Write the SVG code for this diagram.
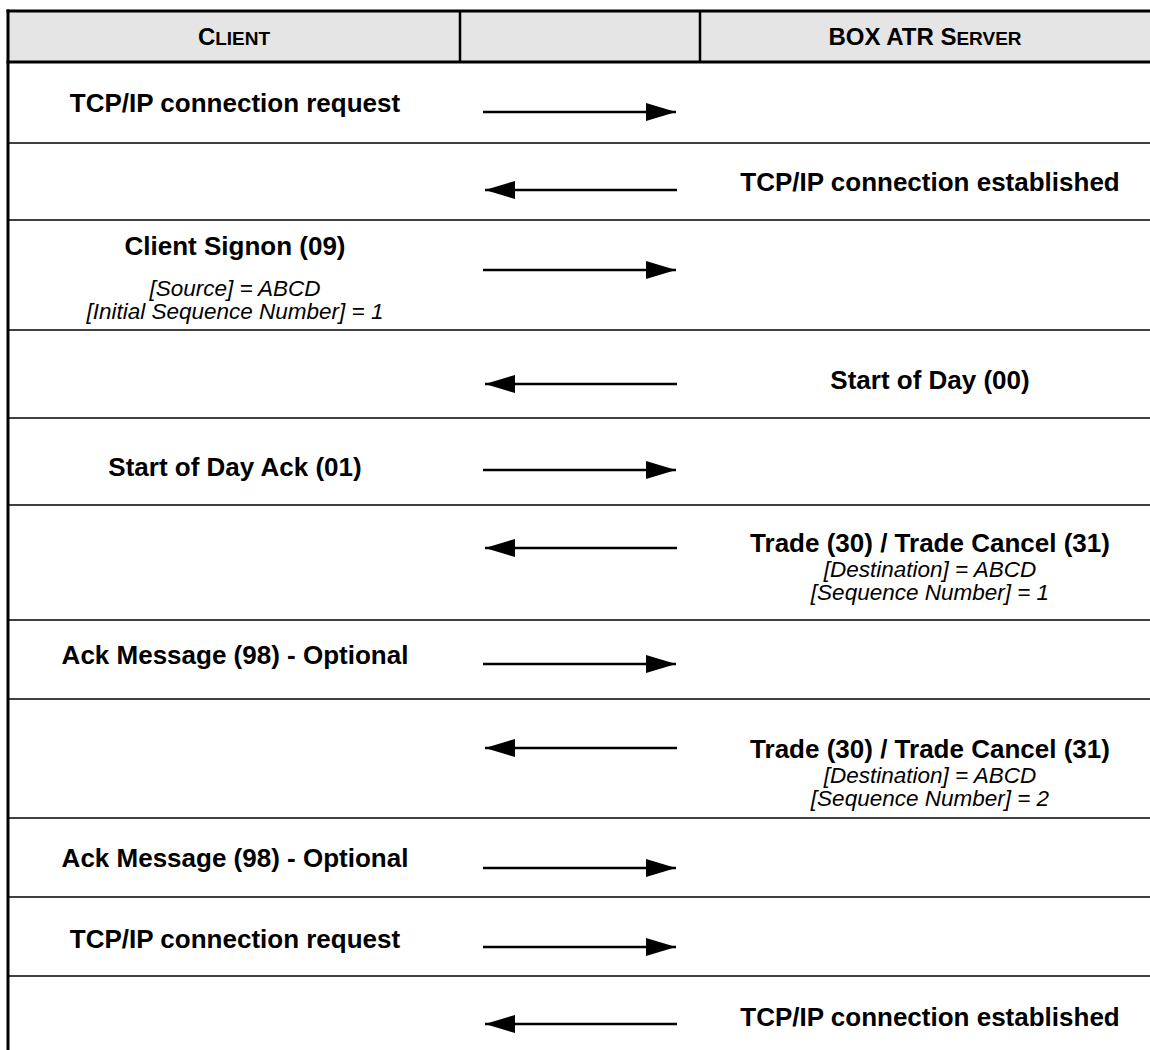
<svg xmlns="http://www.w3.org/2000/svg" width="1150" height="1050" viewBox="0 0 1150 1050">
<defs>
<style>
.b{font-family:"Liberation Sans",Arial,sans-serif;font-weight:bold;font-size:26px;fill:#000;text-anchor:middle}
.i{font-family:"Liberation Sans",Arial,sans-serif;font-style:italic;font-size:22.5px;fill:#000;text-anchor:middle}
.h{font-family:"Liberation Sans",Arial,sans-serif;font-weight:bold;font-size:24px;fill:#000;text-anchor:middle}
.sc{font-size:19px}
.sep{stroke:#000;stroke-width:1.6}
.ln{stroke:#000;stroke-width:2.5;fill:none}
</style>
<marker id="ahR" markerWidth="30" markerHeight="18" refX="30" refY="9" orient="auto" markerUnits="userSpaceOnUse">
<polygon points="0,0 30,9 0,18" fill="#000"/>
</marker>
<marker id="ahL" markerWidth="30" markerHeight="18" refX="30" refY="9" orient="auto" markerUnits="userSpaceOnUse">
<polygon points="0,0 30,9 0,18" fill="#000"/>
</marker>
</defs>
<rect width="1150" height="1050" fill="#fff"/>
<g id="table">
<rect x="8" y="11" width="1150" height="51" fill="#e5e5e5"/>
<line x1="6.5" y1="11" x2="1150" y2="11" stroke="#000" stroke-width="3"/>
<line x1="6.5" y1="62" x2="1150" y2="62" stroke="#000" stroke-width="3"/>
<line x1="8" y1="9.5" x2="8" y2="1050" stroke="#000" stroke-width="3"/>
<line x1="460" y1="11" x2="460" y2="62" stroke="#000" stroke-width="2.5"/>
<line x1="700" y1="11" x2="700" y2="62" stroke="#000" stroke-width="2.5"/>
<line class="sep" x1="8" y1="143" x2="1150" y2="143"/>
<line class="sep" x1="8" y1="220" x2="1150" y2="220"/>
<line class="sep" x1="8" y1="330" x2="1150" y2="330"/>
<line class="sep" x1="8" y1="418" x2="1150" y2="418"/>
<line class="sep" x1="8" y1="505" x2="1150" y2="505"/>
<line class="sep" x1="8" y1="620" x2="1150" y2="620"/>
<line class="sep" x1="8" y1="699" x2="1150" y2="699"/>
<line class="sep" x1="8" y1="818" x2="1150" y2="818"/>
<line class="sep" x1="8" y1="897" x2="1150" y2="897"/>
<line class="sep" x1="8" y1="976" x2="1150" y2="976"/>
</g>
<g id="header-client"><text class="h" x="234" y="45">C<tspan class="sc">LIENT</tspan></text></g>
<g id="header-server"><text class="h" x="925" y="45">BOX ATR S<tspan class="sc">ERVER</tspan></text></g>
<g id="msg1"><text class="b" x="235" y="112">TCP/IP connection request</text></g>
<g id="msg2"><text class="b" x="930" y="191">TCP/IP connection established</text></g>
<g id="msg3"><text class="b" x="235" y="255">Client Signon (09)</text>
<text class="i" x="235" y="296">[Source] = ABCD</text>
<text class="i" x="235" y="319">[Initial Sequence Number] = 1</text></g>
<g id="msg4"><text class="b" x="930" y="389">Start of Day (00)</text></g>
<g id="msg5"><text class="b" x="235" y="476">Start of Day Ack (01)</text></g>
<g id="msg6"><text class="b" x="930" y="552">Trade (30) / Trade Cancel (31)</text>
<text class="i" x="930" y="577">[Destination] = ABCD</text>
<text class="i" x="930" y="600">[Sequence Number] = 1</text></g>
<g id="msg7"><text class="b" x="235" y="664">Ack Message (98) - Optional</text></g>
<g id="msg8"><text class="b" x="930" y="758">Trade (30) / Trade Cancel (31)</text>
<text class="i" x="930" y="783">[Destination] = ABCD</text>
<text class="i" x="930" y="806">[Sequence Number] = 2</text></g>
<g id="msg9"><text class="b" x="235" y="867">Ack Message (98) - Optional</text></g>
<g id="msg10"><text class="b" x="235" y="948">TCP/IP connection request</text></g>
<g id="msg11"><text class="b" x="930" y="1026">TCP/IP connection established</text></g>
<g id="connectors">
<line class="ln" x1="483" y1="112" x2="676" y2="112" marker-end="url(#ahR)"/>
<line class="ln" x1="677" y1="190" x2="485" y2="190" marker-end="url(#ahL)"/>
<line class="ln" x1="483" y1="270" x2="676" y2="270" marker-end="url(#ahR)"/>
<line class="ln" x1="677" y1="384" x2="485" y2="384" marker-end="url(#ahL)"/>
<line class="ln" x1="483" y1="470" x2="676" y2="470" marker-end="url(#ahR)"/>
<line class="ln" x1="677" y1="548" x2="485" y2="548" marker-end="url(#ahL)"/>
<line class="ln" x1="483" y1="664" x2="676" y2="664" marker-end="url(#ahR)"/>
<line class="ln" x1="677" y1="748" x2="485" y2="748" marker-end="url(#ahL)"/>
<line class="ln" x1="483" y1="868" x2="676" y2="868" marker-end="url(#ahR)"/>
<line class="ln" x1="483" y1="947" x2="676" y2="947" marker-end="url(#ahR)"/>
<line class="ln" x1="677" y1="1024" x2="485" y2="1024" marker-end="url(#ahL)"/>
</g>
</svg>
